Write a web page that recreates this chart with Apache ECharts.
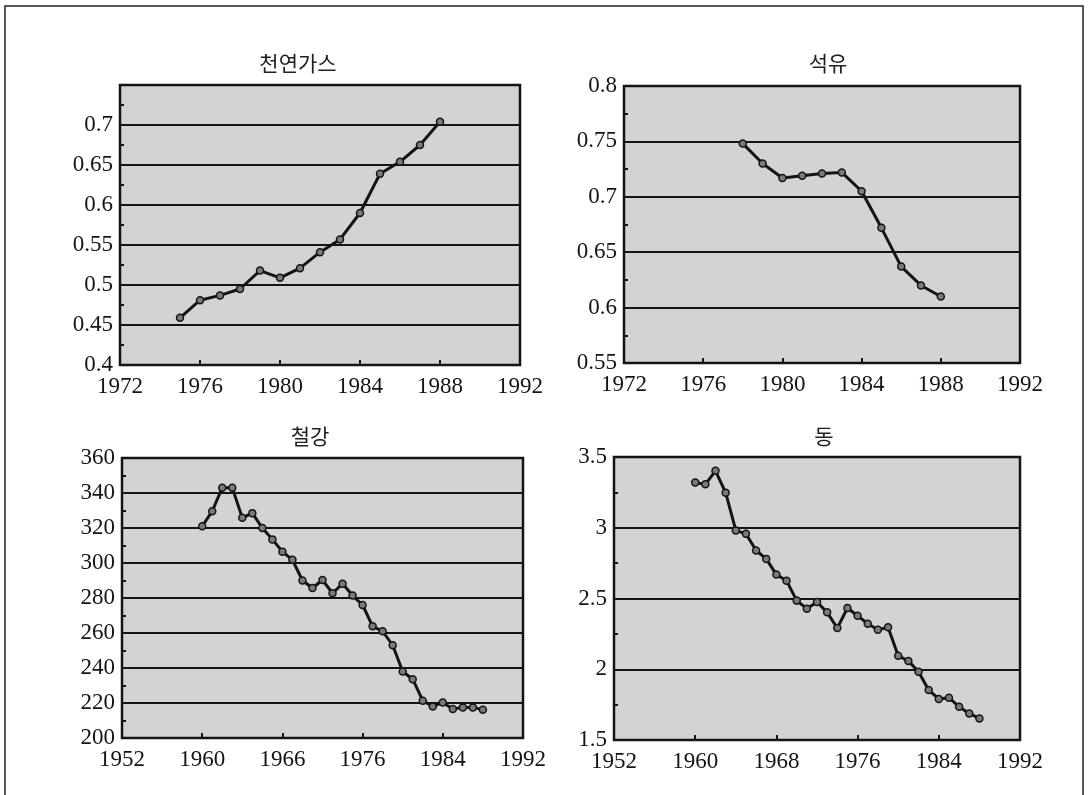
<!DOCTYPE html>
<html>
<head>
<meta charset="utf-8">
<script src="https://cdn.jsdelivr.net/npm/echarts@6/dist/echarts.min.js"></script>
<style>
  html, body { margin: 0; padding: 0; background: #fff; }
  #chart { width: 1090px; height: 795px; }
</style>
</head>
<body>
<div id="chart"></div>
<script>
// ---- Data ----
const titles = ['천연가스', '석유', '철강', '동'];

const gasYears = [1975, 1976, 1977, 1978, 1979, 1980, 1981, 1982, 1983, 1984, 1985, 1986, 1987, 1988];
const gasValues = [0.459, 0.481, 0.487, 0.495, 0.518, 0.509, 0.521, 0.541, 0.557, 0.590, 0.639, 0.654, 0.675, 0.704];

const oilYears = [1978, 1979, 1980, 1981, 1982, 1983, 1984, 1985, 1986, 1987, 1988];
const oilValues = [0.748, 0.730, 0.717, 0.719, 0.721, 0.722, 0.705, 0.672, 0.637, 0.620, 0.610];

const steelYears = [1960, 1961, 1962, 1963, 1964, 1965, 1966, 1967, 1968, 1969, 1970, 1971, 1972, 1973, 1974,
                    1975, 1976, 1977, 1978, 1979, 1980, 1981, 1982, 1983, 1984, 1985, 1986, 1987, 1988];
const steelValues = [321, 329.6, 343, 343, 325.8, 328.5, 320, 313.5, 306.5, 301.8, 290, 285.7, 290.3, 282.7, 288.2,
                     281.4, 276, 263.8, 261, 253, 238, 233.6, 221.3, 218, 220.3, 216.6, 217.5, 217.5, 216.2];

const copperYears = [1960, 1961, 1962, 1963, 1964, 1965, 1966, 1967, 1968, 1969, 1970, 1971, 1972, 1973, 1974,
                     1975, 1976, 1977, 1978, 1979, 1980, 1981, 1982, 1983, 1984, 1985, 1986, 1987, 1988];
const copperValues = [3.319, 3.307, 3.402, 3.248, 2.981, 2.957, 2.839, 2.780, 2.669, 2.626, 2.485, 2.428, 2.475, 2.402, 2.291,
                      2.433, 2.378, 2.322, 2.279, 2.296, 2.095, 2.059, 1.983, 1.853, 1.790, 1.799, 1.735, 1.688, 1.652];

// tick labels
const xLabelsTop = ['1972', '1976', '1980', '1984', '1988', '1992'];
const xLabelsSteel = ['1952', '1960', '1966', '1976', '1984', '1992'];
const xLabelsCopper = ['1952', '1960', '1968', '1976', '1984', '1992'];

// ---- Chart ----
const pair = (xs, ys) => xs.map((x, i) => [x, ys[i]]);
const NUM_FONT = 'Liberation Serif';
const INK = '#141414';

const grids = [
  { left: 120, top: 85, width: 400, height: 280 },
  { left: 624, top: 86, width: 396, height: 277 },
  { left: 122, top: 458, width: 401, height: 280 },
  { left: 614, top: 457, width: 406, height: 283 }
].map(g => Object.assign(g, {
  show: true, backgroundColor: '#d3d3d3', borderColor: INK, borderWidth: 2.5, containLabel: false
}));

function xAxisCfg(idx, min, max, interval, labels) {
  return {
    type: 'value', gridIndex: idx, min: min, max: max, interval: interval,
    axisLine: { show: false },
    axisTick: { show: true, inside: true, length: 5, lineStyle: { color: INK, width: 2 } },
    splitLine: { show: false },
    axisLabel: {
      fontFamily: NUM_FONT, fontSize: 23, color: INK, margin: 10,
      formatter: v => labels[Math.round((v - min) / interval)]
    }
  };
}

function yAxisCfg(idx, min, max, interval, hideAbove) {
  return {
    type: 'value', gridIndex: idx, min: min, max: max, interval: interval,
    axisLine: { show: false },
    axisTick: { show: true, inside: true, length: 4, lineStyle: { color: INK, width: 2 } },
    minorTick: { show: true, splitNumber: 2, length: 4, lineStyle: { color: INK, width: 2 } },
    splitLine: { show: true, lineStyle: { color: INK, width: 2.2 } },
    axisLabel: {
      fontFamily: NUM_FONT, fontSize: 23, color: INK, margin: 7,
      formatter: v => (hideAbove !== undefined && v > hideAbove) ? '' : String(+v.toFixed(2))
    }
  };
}

function seriesCfg(idx, data) {
  return {
    type: 'line', xAxisIndex: idx, yAxisIndex: idx, data: data,
    symbol: 'circle', symbolSize: 7, showSymbol: true,
    lineStyle: { color: INK, width: 3 },
    itemStyle: { color: '#7a7a7a', borderColor: INK, borderWidth: 1.5 },
    animation: false, silent: true
  };
}

const titleStyle = { fontFamily: 'Noto Sans CJK KR', fontSize: 21, fontWeight: 'normal', color: '#222' };

const option = {
  backgroundColor: '#ffffff',
  animation: false,
  title: [
    { text: titles[0], left: 293, top: 48, textAlign: 'center', textStyle: titleStyle },
    { text: titles[1], left: 823, top: 48, textAlign: 'center', textStyle: titleStyle },
    { text: titles[2], left: 305, top: 421, textAlign: 'center', textStyle: titleStyle },
    { text: titles[3], left: 819, top: 421, textAlign: 'center', textStyle: titleStyle }
  ],
  grid: grids,
  xAxis: [
    xAxisCfg(0, 1972, 1992, 4, xLabelsTop),
    xAxisCfg(1, 1972, 1992, 4, xLabelsTop),
    xAxisCfg(2, 1952, 1992, 8, xLabelsSteel),
    xAxisCfg(3, 1952, 1992, 8, xLabelsCopper)
  ],
  yAxis: [
    yAxisCfg(0, 0.4, 0.75, 0.05, 0.72),
    yAxisCfg(1, 0.55, 0.8, 0.05),
    yAxisCfg(2, 200, 360, 20),
    yAxisCfg(3, 1.5, 3.5, 0.5)
  ],
  series: [
    seriesCfg(0, pair(gasYears, gasValues)),
    seriesCfg(1, pair(oilYears, oilValues)),
    seriesCfg(2, pair(steelYears, steelValues)),
    seriesCfg(3, pair(copperYears, copperValues))
  ],
  graphic: [
    {
      type: 'rect', silent: true, z: 100,
      shape: { x: 5, y: 6, width: 1078, height: 830 },
      style: { fill: 'none', stroke: '#222', lineWidth: 1.5 }
    }
  ]
};

const chart = echarts.init(document.getElementById('chart'), null, { renderer: 'canvas' });
chart.setOption(option);
</script>
</body>
</html>
